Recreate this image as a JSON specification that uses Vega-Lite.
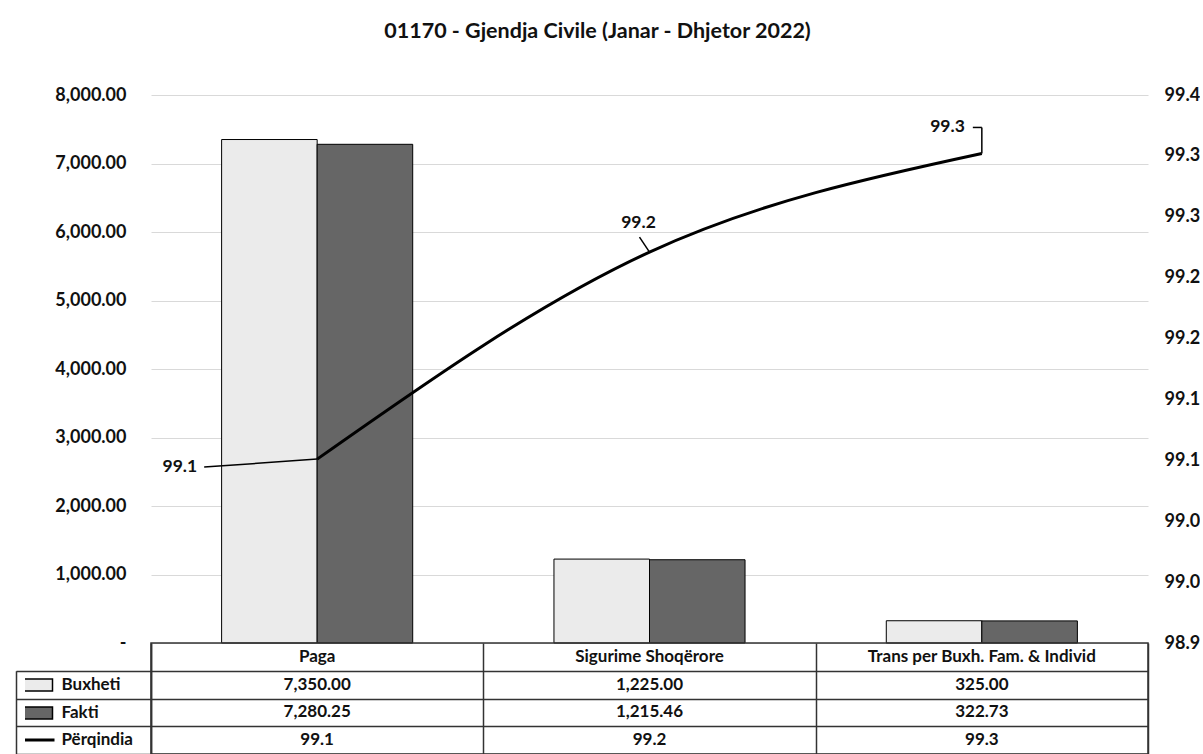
{
  "$schema": "https://vega.github.io/schema/vega-lite/v6.json",
  "padding": {"left": 14, "top": 20, "right": 0, "bottom": 0},
  "autosize": {"type": "pad"},
  "background": "white",
  "bounds": "flush",
  "spacing": 0,
  "config": {
    "font": "Lato",
    "view": {"stroke": null},
    "axis": {"labelFont": "Lato", "labelFontWeight": "bold", "labelColor": "#111111"},
    "text": {"font": "Lato", "fontWeight": "bold", "color": "#111111"},
    "legend": {"labelFont": "Lato", "labelFontWeight": "bold", "labelColor": "#111111", "labelFontSize": 17, "labelLimit": 200, "title": null, "padding": 0, "rowPadding": 0, "clipHeight": 27.75, "symbolStrokeColor": "#000000"}
  },
  "datasets": {
    "bars": [
      {"cat": "Paga", "series": "Buxheti", "amount": 7350},
      {"cat": "Paga", "series": "Fakti", "amount": 7280.25},
      {"cat": "Sigurime Shoqërore", "series": "Buxheti", "amount": 1225},
      {"cat": "Sigurime Shoqërore", "series": "Fakti", "amount": 1215.46},
      {"cat": "Trans per Buxh. Fam. & Individ", "series": "Buxheti", "amount": 325},
      {"cat": "Trans per Buxh. Fam. & Individ", "series": "Fakti", "amount": 322.73}
    ],
    "pct": [
      {"cat": "Paga", "pct": 99.051},
      {"cat": "Sigurime Shoqërore", "pct": 99.221},
      {"cat": "Trans per Buxh. Fam. & Individ", "pct": 99.302}
    ]
  },
  "vconcat": [
    {
      "title": {"text": "01170 - Gjendja Civile (Janar - Dhjetor 2022)", "fontSize": 21.5, "font": "Lato", "fontWeight": "bold", "color": "#111111", "anchor": "middle", "frame": "group", "dx": -52, "offset": 44},
      "width": 997,
      "height": 548,
      "layer": [
        {
          "data": {"name": "bars"},
          "mark": {"type": "bar", "stroke": "#000000", "strokeWidth": 1},
          "encoding": {
            "x": {"field": "cat", "type": "nominal", "sort": null, "scale": {"domain": ["Paga", "Sigurime Shoqërore", "Trans per Buxh. Fam. & Individ"], "paddingInner": 0.425, "paddingOuter": 0.2125}, "axis": null},
            "xOffset": {"field": "series", "type": "nominal", "scale": {"domain": ["Buxheti", "Fakti"], "paddingInner": 0, "paddingOuter": 0}},
            "y": {"field": "amount", "type": "quantitative", "scale": {"domain": [0, 8000], "nice": false},
              "axis": {"orient": "left", "values": [0, 1000, 2000, 3000, 4000, 5000, 6000, 7000, 8000], "labelExpr": "datum.value === 0 ? '-' : format(datum.value, ',.2f')", "grid": true, "gridColor": "#d9d9d9", "gridWidth": 1, "ticks": false, "domain": false, "labelPadding": 25, "labelFontSize": 18, "title": null}},
            "color": {"field": "series", "type": "nominal", "scale": {"domain": ["Buxheti", "Fakti"], "range": ["#ebebeb", "#666666"]},
              "legend": {"orient": "none", "legendX": -126, "legendY": 576, "symbolSize": 100, "labelOffset": 19.5, "symbolType": "M-3.8,-1.2H3.8V1.2H-3.8Z", "symbolStrokeWidth": 1.5, "symbolStrokeColor": "#000000"}}
          }
        },
        {
          "data": {"name": "pct"},
          "encoding": {
            "x": {"field": "cat", "type": "nominal", "sort": null},
            "y": {"field": "pct", "type": "quantitative", "scale": {"domain": [98.9, 99.35], "nice": false, "zero": false},
              "axis": {"orient": "right", "values": [98.9, 98.95, 99, 99.05, 99.1, 99.15, 99.2, 99.25, 99.3, 99.35], "labelExpr": "format(round(datum.value*10+0.001)/10, '.1f')", "grid": false, "ticks": false, "domain": false, "labelPadding": 16, "labelFontSize": 18, "title": null}}
          },
          "layer": [
            {"mark": {"type": "line", "interpolate": "monotone", "strokeWidth": 3},
             "encoding": {"stroke": {"datum": "Përqindia", "type": "nominal", "scale": {"domain": ["Përqindia"], "range": ["#000000"]},
               "legend": {"orient": "none", "legendX": -126, "legendY": 631, "symbolSize": 100, "labelOffset": 19.5, "symbolType": "M-3.8,0H4.2", "symbolStrokeWidth": 3, "symbolStrokeColor": "#000000"}}}},
            {"transform": [{"filter": "datum.cat === 'Paga'"}],
             "mark": {"type": "text", "align": "right", "dx": -120, "dy": 8, "fontSize": 17.5},
             "encoding": {"text": {"field": "pct", "format": ".1f"}}},
            {"transform": [{"filter": "datum.cat === 'Sigurime Shoqërore'"}],
             "mark": {"type": "text", "align": "center", "dx": -11, "dy": -29, "fontSize": 17.5},
             "encoding": {"text": {"field": "pct", "format": ".1f"}}},
            {"transform": [{"filter": "datum.cat === 'Trans per Buxh. Fam. & Individ'"}],
             "mark": {"type": "text", "align": "right", "dx": -17, "dy": -26, "fontSize": 17.5},
             "encoding": {"text": {"field": "pct", "format": ".1f"}}},
            {"transform": [{"filter": "datum.cat === 'Paga'"}],
             "mark": {"type": "rule", "color": "#000000", "strokeWidth": 1.5, "x2Offset": -113, "y2Offset": 8},
             "encoding": {"x2": {"field": "cat"}, "y2": {"field": "pct"}}},
            {"transform": [{"filter": "datum.cat === 'Sigurime Shoqërore'"}],
             "mark": {"type": "rule", "color": "#000000", "strokeWidth": 1.5, "x2Offset": -10, "y2Offset": -15},
             "encoding": {"x2": {"field": "cat"}, "y2": {"field": "pct"}}},
            {"transform": [{"filter": "datum.cat === 'Trans per Buxh. Fam. & Individ'"}],
             "mark": {"type": "rule", "color": "#000000", "strokeWidth": 1.5, "y2Offset": -26},
             "encoding": {"y2": {"field": "pct"}}},
            {"transform": [{"filter": "datum.cat === 'Trans per Buxh. Fam. & Individ'"}],
             "mark": {"type": "rule", "color": "#000000", "strokeWidth": 1.5, "yOffset": -26, "y2Offset": -26, "x2Offset": -9},
             "encoding": {"x2": {"field": "cat"}, "y2": {"field": "pct"}}}
          ]
        }
      ],
      "resolve": {"scale": {"y": "independent"}, "axis": {"y": "independent"}}
    },
    {
      "width": 997,
      "height": 111,
      "view": {"stroke": "#333333", "strokeWidth": 1.5},
      "layer": [
        {
          "encoding": {
            "x": {"field": "cat", "type": "nominal", "sort": null, "scale": {"domain": ["Paga", "Sigurime Shoqërore", "Trans per Buxh. Fam. & Individ"], "paddingInner": 0, "paddingOuter": 0},
              "axis": {"orient": "top", "labels": false, "ticks": false, "domain": false, "grid": true, "tickBand": "extent", "gridColor": "#333333", "gridWidth": 1.5, "title": null}}
          },
          "layer": [
            {
              "data": {"name": "pct"},
              "mark": {"type": "text", "fontSize": 17},
              "encoding": {
                "y": {"datum": "hdr", "type": "nominal", "scale": {"domain": ["hdr", "Buxheti", "Fakti", "Përqindia"], "paddingInner": 0, "paddingOuter": 0},
                  "axis": {"orient": "left", "values": ["Buxheti", "Fakti", "Përqindia"], "tickBand": "extent", "labels": false, "ticks": true, "tickSize": 135, "tickColor": "#333333", "tickWidth": 1.5, "grid": true, "gridColor": "#333333", "gridWidth": 1.5, "domain": true, "domainColor": "#333333", "domainWidth": 1.5, "title": null}},
                "text": {"field": "cat"}
              }
            },
            {
              "data": {"name": "bars"},
              "mark": {"type": "text", "fontSize": 17},
              "encoding": {
                "y": {"field": "series", "type": "nominal", "scale": {"domain": ["hdr", "Buxheti", "Fakti", "Përqindia"], "paddingInner": 0, "paddingOuter": 0},
                  "axis": {"orient": "left", "values": ["Buxheti", "Fakti", "Përqindia"], "tickBand": "extent", "labels": false, "ticks": true, "tickSize": 135, "tickColor": "#333333", "tickWidth": 1.5, "grid": true, "gridColor": "#333333", "gridWidth": 1.5, "domain": true, "domainColor": "#333333", "domainWidth": 1.5, "title": null}},
                "text": {"field": "amount", "format": ",.2f"}
              }
            },
            {
              "data": {"name": "pct"},
              "mark": {"type": "text", "fontSize": 17},
              "encoding": {
                "y": {"datum": "Përqindia", "type": "nominal", "scale": {"domain": ["hdr", "Buxheti", "Fakti", "Përqindia"], "paddingInner": 0, "paddingOuter": 0},
                  "axis": {"orient": "left", "values": ["Buxheti", "Fakti", "Përqindia"], "tickBand": "extent", "labels": false, "ticks": true, "tickSize": 135, "tickColor": "#333333", "tickWidth": 1.5, "grid": true, "gridColor": "#333333", "gridWidth": 1.5, "domain": true, "domainColor": "#333333", "domainWidth": 1.5, "title": null}},
                "text": {"field": "pct", "format": ".1f"}
              }
            }
          ]
        },
        {
          "data": {"name": "pct"},
          "mark": {"type": "point", "opacity": 0},
          "encoding": {
            "y": {"field": "cat", "type": "nominal", "sort": null,
              "axis": {"orient": "left", "offset": 135, "domain": true, "domainColor": "#333333", "domainWidth": 1.5, "domainDash": [0, 27.75, 200, 0], "labels": false, "ticks": false, "grid": false, "title": null}}
          }
        }
      ],
      "resolve": {"scale": {"y": "independent"}, "axis": {"y": "independent"}}
    }
  ]
}
